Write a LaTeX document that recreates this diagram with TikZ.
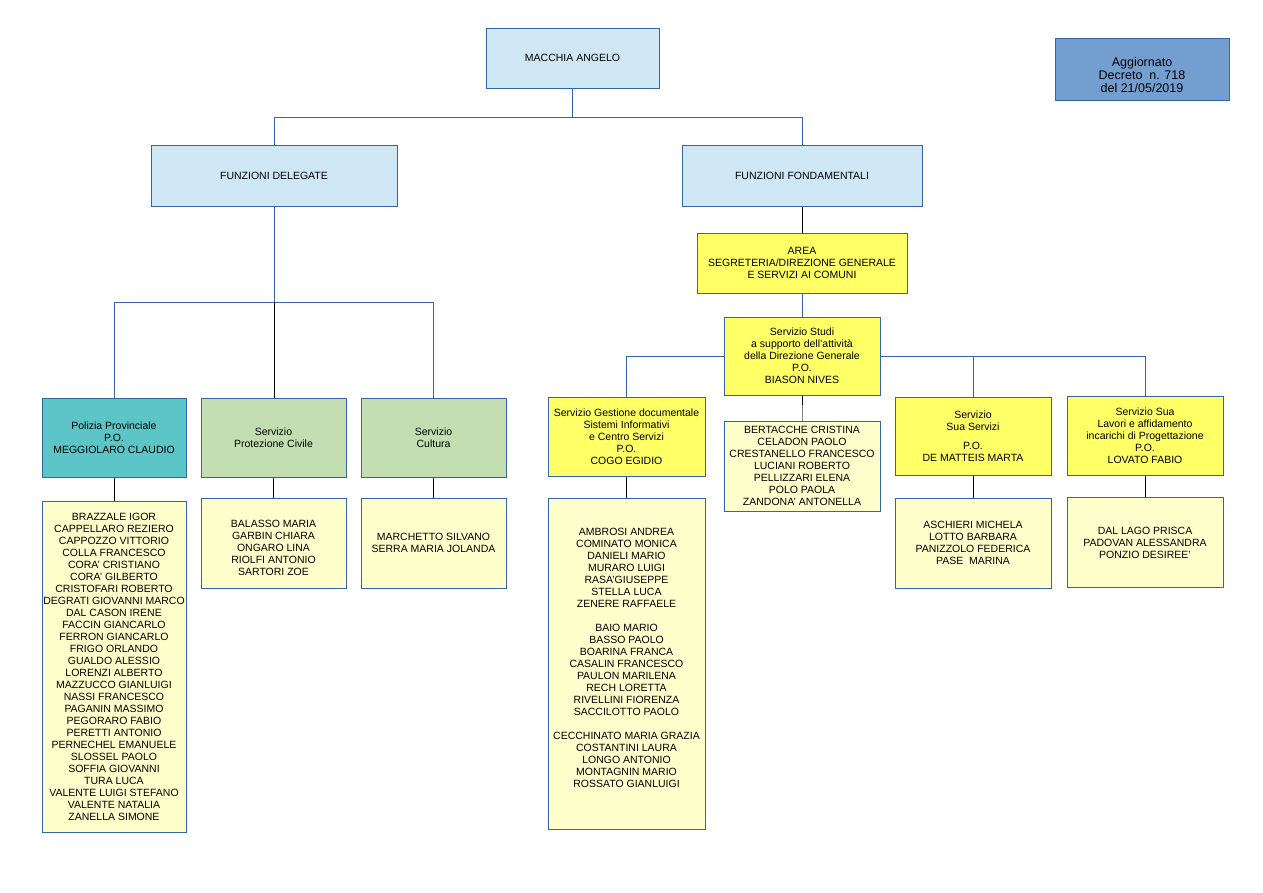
\documentclass[tikz,border=0pt]{standalone}
\usepackage{fontspec}
\setmainfont{Liberation Sans}
\usetikzlibrary{positioning}
\definecolor{lineblue}{HTML}{3465A4}
\definecolor{boxblue}{HTML}{CFE7F5}
\definecolor{noteblue}{HTML}{729FCF}
\definecolor{polteal}{HTML}{5BC5C7}
\definecolor{servgreen}{HTML}{C3DFB1}
\definecolor{areayellow}{HTML}{FFFF66}
\definecolor{listyellow}{HTML}{FFFFCC}

\begin{document}
\begin{tikzpicture}[
    x=1pt, y=-1pt,
    box/.style={rectangle, draw=lineblue, line width=1pt, align=center, inner sep=1pt, font=\fontsize{10.5}{12}\selectfont},
    topbox/.style={box, fill=boxblue, minimum height=61pt},
    notebox/.style={box, fill=noteblue, minimum width=174pt, minimum height=62pt, font=\fontsize{12.5}{13}\selectfont},
    delbox/.style={box, minimum width=145pt, minimum height=79pt},
    fonbox/.style={box, fill=areayellow, minimum width=156pt, minimum height=79pt},
    listbox/.style={box, fill=listyellow, minimum height=90pt},
    link/.style={draw=lineblue, line width=1pt},
    drop/.style={draw=black, line width=1pt}
]
\useasboundingbox (0,0) rectangle (1263,892);

% Row 1: Top
\node[topbox, minimum width=173pt, minimum height=60pt] (macchia) at (572.5,58) {MACCHIA ANGELO};
\node[notebox] (aggiornato) at (1142,69) {\rule{0pt}{21pt}Aggiornato\\Decreto\ \ n. 718\\del 21/05/2019};

% Row 2: Funzioni
\node[topbox, minimum width=246pt] (delegate) at (274,175.5) {FUNZIONI DELEGATE};
\node[topbox, minimum width=240pt] (fondamentali) at (802,175.5) {FUNZIONI FONDAMENTALI};

% Right: Area and Studi
\node[fonbox, minimum width=210pt, minimum height=60pt, below=26pt of fondamentali] (area) {AREA\\SEGRETERIA/DIREZIONE GENERALE\\E SERVIZI AI COMUNI};
\node[fonbox, minimum height=78pt, below=23pt of area] (studi) {Servizio Studi\\a supporto dell’attività\\della Direzione Generale\\P.O.\\BIASON NIVES};

% Row 3: Servizi delegati
\node[delbox, fill=polteal, minimum width=144pt] (polizia) at (114,437.5) {Polizia Provinciale\\P.O.\\MEGGIOLARO CLAUDIO};
\node[delbox, fill=servgreen, right=14pt of polizia] (protezione) {Servizio\\Protezione Civile};
\node[delbox, fill=servgreen, right=14pt of protezione] (cultura) {Servizio\\Cultura};

% Row 3: Servizi fondamentali
\node[fonbox, minimum width=157pt] (gestione) at (626.5,436.5) {Servizio Gestione documentale\\Sistemi Informativi\\e Centro Servizi\\P.O.\\COGO EGIDIO};
\node[fonbox, minimum height=78pt] (suaserv) at (973,436) {Servizio\\Sua Servizi\\[7pt]P.O.\\DE MATTEIS MARTA};
\node[fonbox, right=15pt of suaserv] (sualav) {Servizio Sua\\Lavori e affidamento\\incarichi di Progettazione\\P.O.\\LOVATO FABIO};

% Row 4: Staff
\node[listbox, minimum width=144pt, minimum height=331pt, below=23pt of polizia] (pollist) {BRAZZALE IGOR\\CAPPELLARO REZIERO\\CAPPOZZO VITTORIO\\COLLA FRANCESCO\\CORA’ CRISTIANO\\CORA’ GILBERTO\\CRISTOFARI ROBERTO\\DEGRATI GIOVANNI MARCO\\DAL CASON IRENE\\FACCIN GIANCARLO\\FERRON GIANCARLO\\FRIGO ORLANDO\\GUALDO ALESSIO\\LORENZI ALBERTO\\MAZZUCCO GIANLUIGI\\NASSI FRANCESCO\\PAGANIN MASSIMO\\PEGORARO FABIO\\PERETTI ANTONIO\\PERNECHEL EMANUELE\\SLOSSEL PAOLO\\SOFFIA GIOVANNI\\TURA LUCA\\VALENTE LUIGI STEFANO\\VALENTE NATALIA\\ZANELLA SIMONE};
\node[listbox, minimum width=145pt, below=20pt of protezione] (protlist) {~\\[6pt]BALASSO MARIA\\GARBIN CHIARA\\ONGARO LINA\\RIOLFI ANTONIO\\SARTORI ZOE};
\node[listbox, minimum width=145pt, below=20pt of cultura] (cultlist) {MARCHETTO SILVANO\\SERRA MARIA JOLANDA};
\node[listbox, minimum width=156pt, below=25pt of studi] (studilist) {BERTACCHE CRISTINA\\CELADON PAOLO\\CRESTANELLO FRANCESCO\\LUCIANI ROBERTO\\PELLIZZARI ELENA\\POLO PAOLA\\ZANDONA’ ANTONELLA};
\node[listbox, minimum width=157pt, minimum height=331pt, below=21pt of gestione] (gestlist) {AMBROSI ANDREA\\COMINATO MONICA\\DANIELI MARIO\\MURARO LUIGI\\RASA’GIUSEPPE\\STELLA LUCA\\ZENERE RAFFAELE\\[12pt]BAIO MARIO\\BASSO PAOLO\\BOARINA FRANCA\hspace{14pt}\\CASALIN FRANCESCO\\PAULON MARILENA\\RECH LORETTA\\RIVELLINI FIORENZA\\SACCILOTTO PAOLO\\[12pt]CECCHINATO MARIA GRAZIA\\COSTANTINI LAURA\\LONGO ANTONIO\\MONTAGNIN MARIO\\ROSSATO GIANLUIGI\\ ~};
\node[listbox, minimum width=156pt, below=22pt of suaserv] (suaservlist) {ASCHIERI MICHELA\\LOTTO BARBARA\\PANIZZOLO FEDERICA\\PASE\ \ MARINA};
\node[listbox, minimum width=156pt, below=21pt of sualav] (sualavlist) {DAL LAGO PRISCA\\PADOVAN ALESSANDRA\\PONZIO DESIREE’};

% Links
\coordinate (jtop) at (572.5,117);
\draw[link] (macchia) -- (jtop);
\draw[link] (jtop) -| (delegate);
\draw[link] (jtop) -| (fondamentali);

\coordinate (jdel) at (274,302);
\draw[link] (delegate) -- (jdel);
\draw[link] (jdel) -| (polizia);
\draw[link] (jdel) -| (cultura);
\draw[drop] (jdel) -- (jdel |- protezione.north);

\draw[drop] (fondamentali) -- (area);
\draw[link] (area) -- (studi);
\draw[link] (studi) -| (gestione);
\draw[link] (studi) -| (suaserv);
\draw[link] (studi) -| (sualav);

% Staff links
\draw[drop] (studi.south) -- ++(0,9) coordinate (jstudi);
\draw[drop, gray] (jstudi) -- (studilist);
\draw[drop] (polizia) -- (pollist);
\draw[drop] (protezione) -- (protlist);
\draw[drop] (cultura) -- (cultlist);
\draw[drop] (gestione) -- (gestlist);
\draw[drop] (suaserv) -- (suaservlist);
\draw[drop] (sualav) -- (sualavlist);

\end{tikzpicture}
\end{document}
